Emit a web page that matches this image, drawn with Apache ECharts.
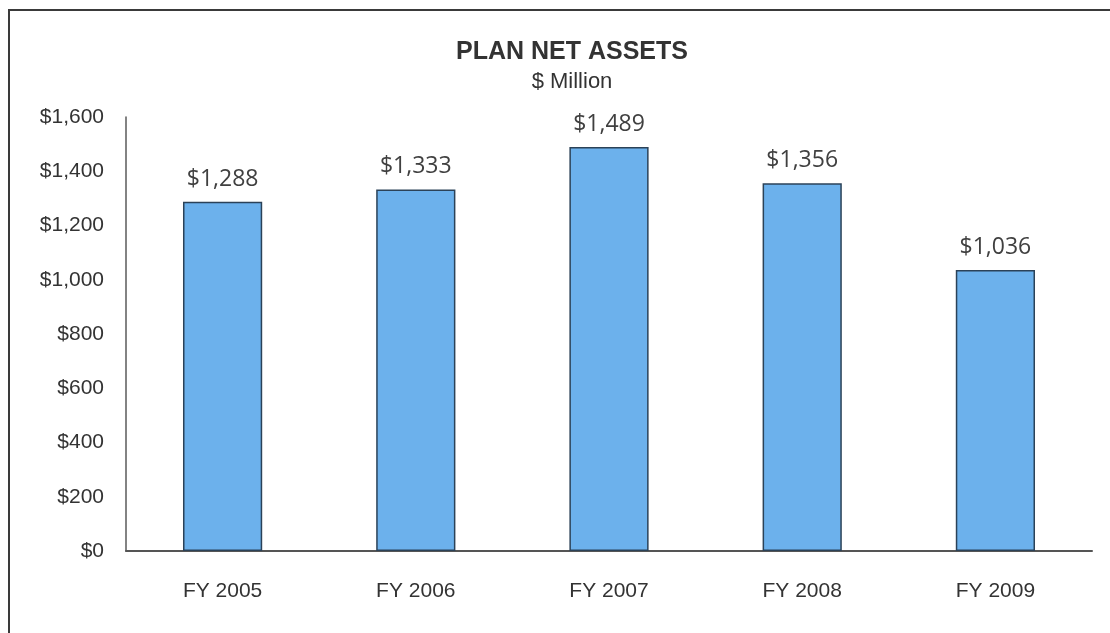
<!DOCTYPE html>
<html>
<head>
<meta charset="utf-8">
<title>Plan Net Assets</title>
<script src="https://cdn.jsdelivr.net/npm/echarts@6/dist/echarts.min.js"></script>
<style>
  html, body { margin: 0; padding: 0; background: #ffffff; }
  #chart { width: 1110px; height: 633px; }
</style>
</head>
<body>
<div id="chart"></div>
<script>
// Fiscal years and plan net assets in $ million
const fiscalYears = ['FY 2005', 'FY 2006', 'FY 2007', 'FY 2008', 'FY 2009'];
const netAssets = [1288, 1333, 1489, 1356, 1036];
const yTicks = [0, 200, 400, 600, 800, 1000, 1200, 1400, 1600];

const money = v => '$' + v.toLocaleString('en-US');

const chart = echarts.init(document.getElementById('chart'), null, { renderer: 'canvas' });

chart.setOption({
  backgroundColor: '#ffffff',
  animation: false,
  graphic: [
    {
      type: 'rect',
      shape: { x: 9, y: 10, width: 1200, height: 700 },
      style: { fill: 'none', stroke: '#3a3a3a', lineWidth: 2 },
      z: 0
    }
  ],
  title: [
    {
      text: 'PLAN NET ASSETS',
      left: 567,
      top: 35,
      textAlign: 'center',
      textStyle: {
        fontFamily: 'Liberation Sans, Arial, sans-serif',
        fontWeight: 'bold',
        fontSize: 25,
        color: '#333333'
      }
    },
    {
      text: '$ Million',
      left: 567,
      top: 66,
      textAlign: 'center',
      textStyle: {
        fontFamily: 'Liberation Sans, Arial, sans-serif',
        fontWeight: 'normal',
        fontSize: 22,
        color: '#333333'
      }
    }
  ],
  grid: { left: 126, right: 18, top: 117, bottom: 82, containLabel: false },
  xAxis: {
    type: 'category',
    data: fiscalYears,
    axisLine: { show: true, lineStyle: { color: '#555555', width: 2 } },
    axisTick: { show: false },
    axisLabel: {
      margin: 30,
      fontFamily: 'Liberation Sans, Arial, sans-serif',
      fontSize: 21,
      color: '#333333'
    },
    splitLine: { show: false }
  },
  yAxis: {
    type: 'value',
    min: yTicks[0],
    max: yTicks[yTicks.length - 1],
    interval: yTicks[1] - yTicks[0],
    axisLine: { show: true, lineStyle: { color: '#5a5a5a', width: 1.5 } },
    axisTick: { show: false },
    splitLine: { show: false },
    axisLabel: {
      margin: 22,
      fontFamily: 'Liberation Sans, Arial, sans-serif',
      fontSize: 21,
      color: '#333333',
      formatter: v => money(v)
    }
  },
  series: [
    {
      type: 'bar',
      data: netAssets,
      barWidth: '41%',
      itemStyle: {
        color: '#6cb1ec',
        borderColor: '#2b4258',
        borderWidth: 1.5
      },
      label: {
        show: true,
        position: 'top',
        distance: 11,
        fontFamily: 'Open Sans, sans-serif',
        fontSize: 23,
        color: '#404040',
        formatter: p => money(p.value)
      }
    }
  ]
});
</script>
</body>
</html>
